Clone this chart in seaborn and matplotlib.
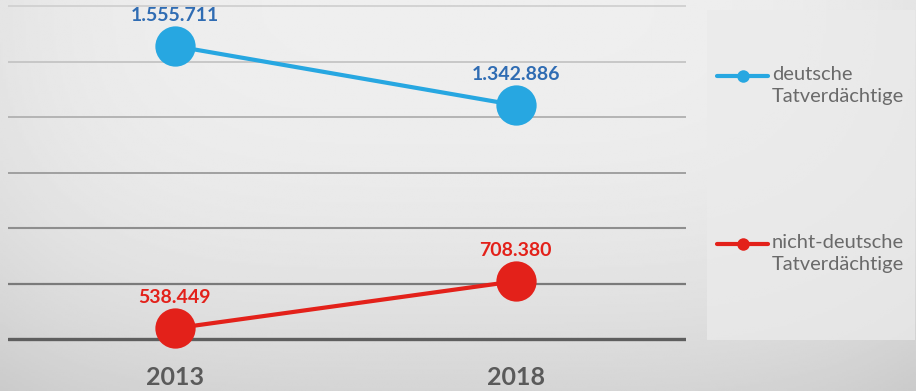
import numpy as np
import pandas as pd
import matplotlib
matplotlib.use("Agg")
import matplotlib.pyplot as plt
from matplotlib.lines import Line2D
from matplotlib.patches import Rectangle
import seaborn as sns

# ---- data ----
years = ["2013", "2018"]
deutsche = [1555711, 1342886]
nicht_deutsche = [538449, 708380]
series_names = ["deutsche\nTatverdächtige", "nicht-deutsche\nTatverdächtige"]
series_colors = ["#27a7e1", "#e3211a"]
label_colors = ["#2f6cb3", "#e3211a"]
grid_ticks = [500000, 700000, 900000, 1100000, 1300000, 1500000, 1700000]

df = pd.DataFrame({
    "Jahr": years * 2,
    "Wert": deutsche + nicht_deutsche,
    "Gruppe": [series_names[0]] * len(years) + [series_names[1]] * len(years),
})

sns.set_theme(style="white")
plt.rcParams["font.family"] = ["Lato", "DejaVu Sans"]

W, H = 916, 391
fig = plt.figure(figsize=(W / 100, H / 100), dpi=100)

# background gradient
bg = fig.add_axes([0, 0, 1, 1], zorder=0)
yy = np.linspace(0, 1, 200)[:, None]
xx = np.linspace(0, 1, 400)[None, :]
val = 0.935 - 0.10 * yy ** 2.4 - 0.04 * (2 * xx - 1.0) ** 4
bg.imshow(val, cmap="gray", vmin=0, vmax=1, aspect="auto", extent=[0, 1, 1, 0])
bg.set_xlim(0, 1)
bg.set_ylim(1, 0)
bg.axis("off")
# legend panel
bg.add_patch(Rectangle((707 / W, 10 / H), 208 / W, 330 / H, facecolor="#ebebeb",
                       edgecolor="none", alpha=0.75))

ax = fig.add_axes([8 / W, 1 - 345 / H, 678 / W, 345 / H], zorder=1)
ax.set_facecolor("none")

sns.pointplot(data=df, x="Jahr", y="Wert", hue="Gruppe", hue_order=series_names,
              palette=series_colors, markers="o", errorbar=None, legend=False,
              markersize=29, linewidth=3, markeredgewidth=0, ax=ax)
for ln in ax.lines:
    ln.set_clip_on(False)
    ln.set_zorder(3)

ax.set_xlim(-0.49, 1.50)
ax.set_ylim(478400, 1721800)
ax.set_yticks(grid_ticks)
ax.set_yticklabels([])
ax.yaxis.grid(True)
grid_cols = ["#5e5e5e", "#7a7a7a", "#8e8e8e", "#a0a0a0", "#b4b4b4", "#c4c4c4", "#d0d0d0"]
grid_lw = [2.4, 1.6, 1.5, 1.4, 1.4, 1.3, 1.3]
for gl, c, lw in zip(ax.get_ygridlines(), grid_cols, grid_lw):
    gl.set_color(c)
    gl.set_linewidth(lw)
ax.xaxis.grid(False)
for s in ax.spines.values():
    s.set_visible(False)
ax.tick_params(axis="both", length=0)
ax.tick_params(axis="x", pad=15, labelsize=18, labelcolor="#5a5a5a")
for t in ax.get_xticklabels():
    t.set_fontweight("bold")
ax.set_xlabel("")
ax.set_ylabel("")

# data labels
for vals, col in zip([deutsche, nicht_deutsche], label_colors):
    for i, v in enumerate(vals):
        ax.annotate(f"{v:,}".replace(",", "."), (i, v), xytext=(0, 22),
                    textcoords="offset points", ha="center", va="center",
                    fontsize=14, fontweight="bold", color=col, zorder=4)

# legend (manual)
leg_y = [76, 244]
for name, col, y in zip(series_names, series_colors, leg_y):
    fy = 1 - y / H
    fig.add_artist(Line2D([717 / W, 768 / W], [fy, fy], color=col, lw=3,
                          transform=fig.transFigure, zorder=3))
    fig.add_artist(Line2D([743 / W], [fy], color=col, marker="o", markersize=9,
                          markeredgewidth=0, transform=fig.transFigure, zorder=3))
    fig.text(772 / W, 1 - (y - 10) / H, name, ha="left", va="top", fontsize=14.5,
             color="#6a6a6a", linespacing=1.35, zorder=3)

fig.savefig("out.png", dpi=100)
